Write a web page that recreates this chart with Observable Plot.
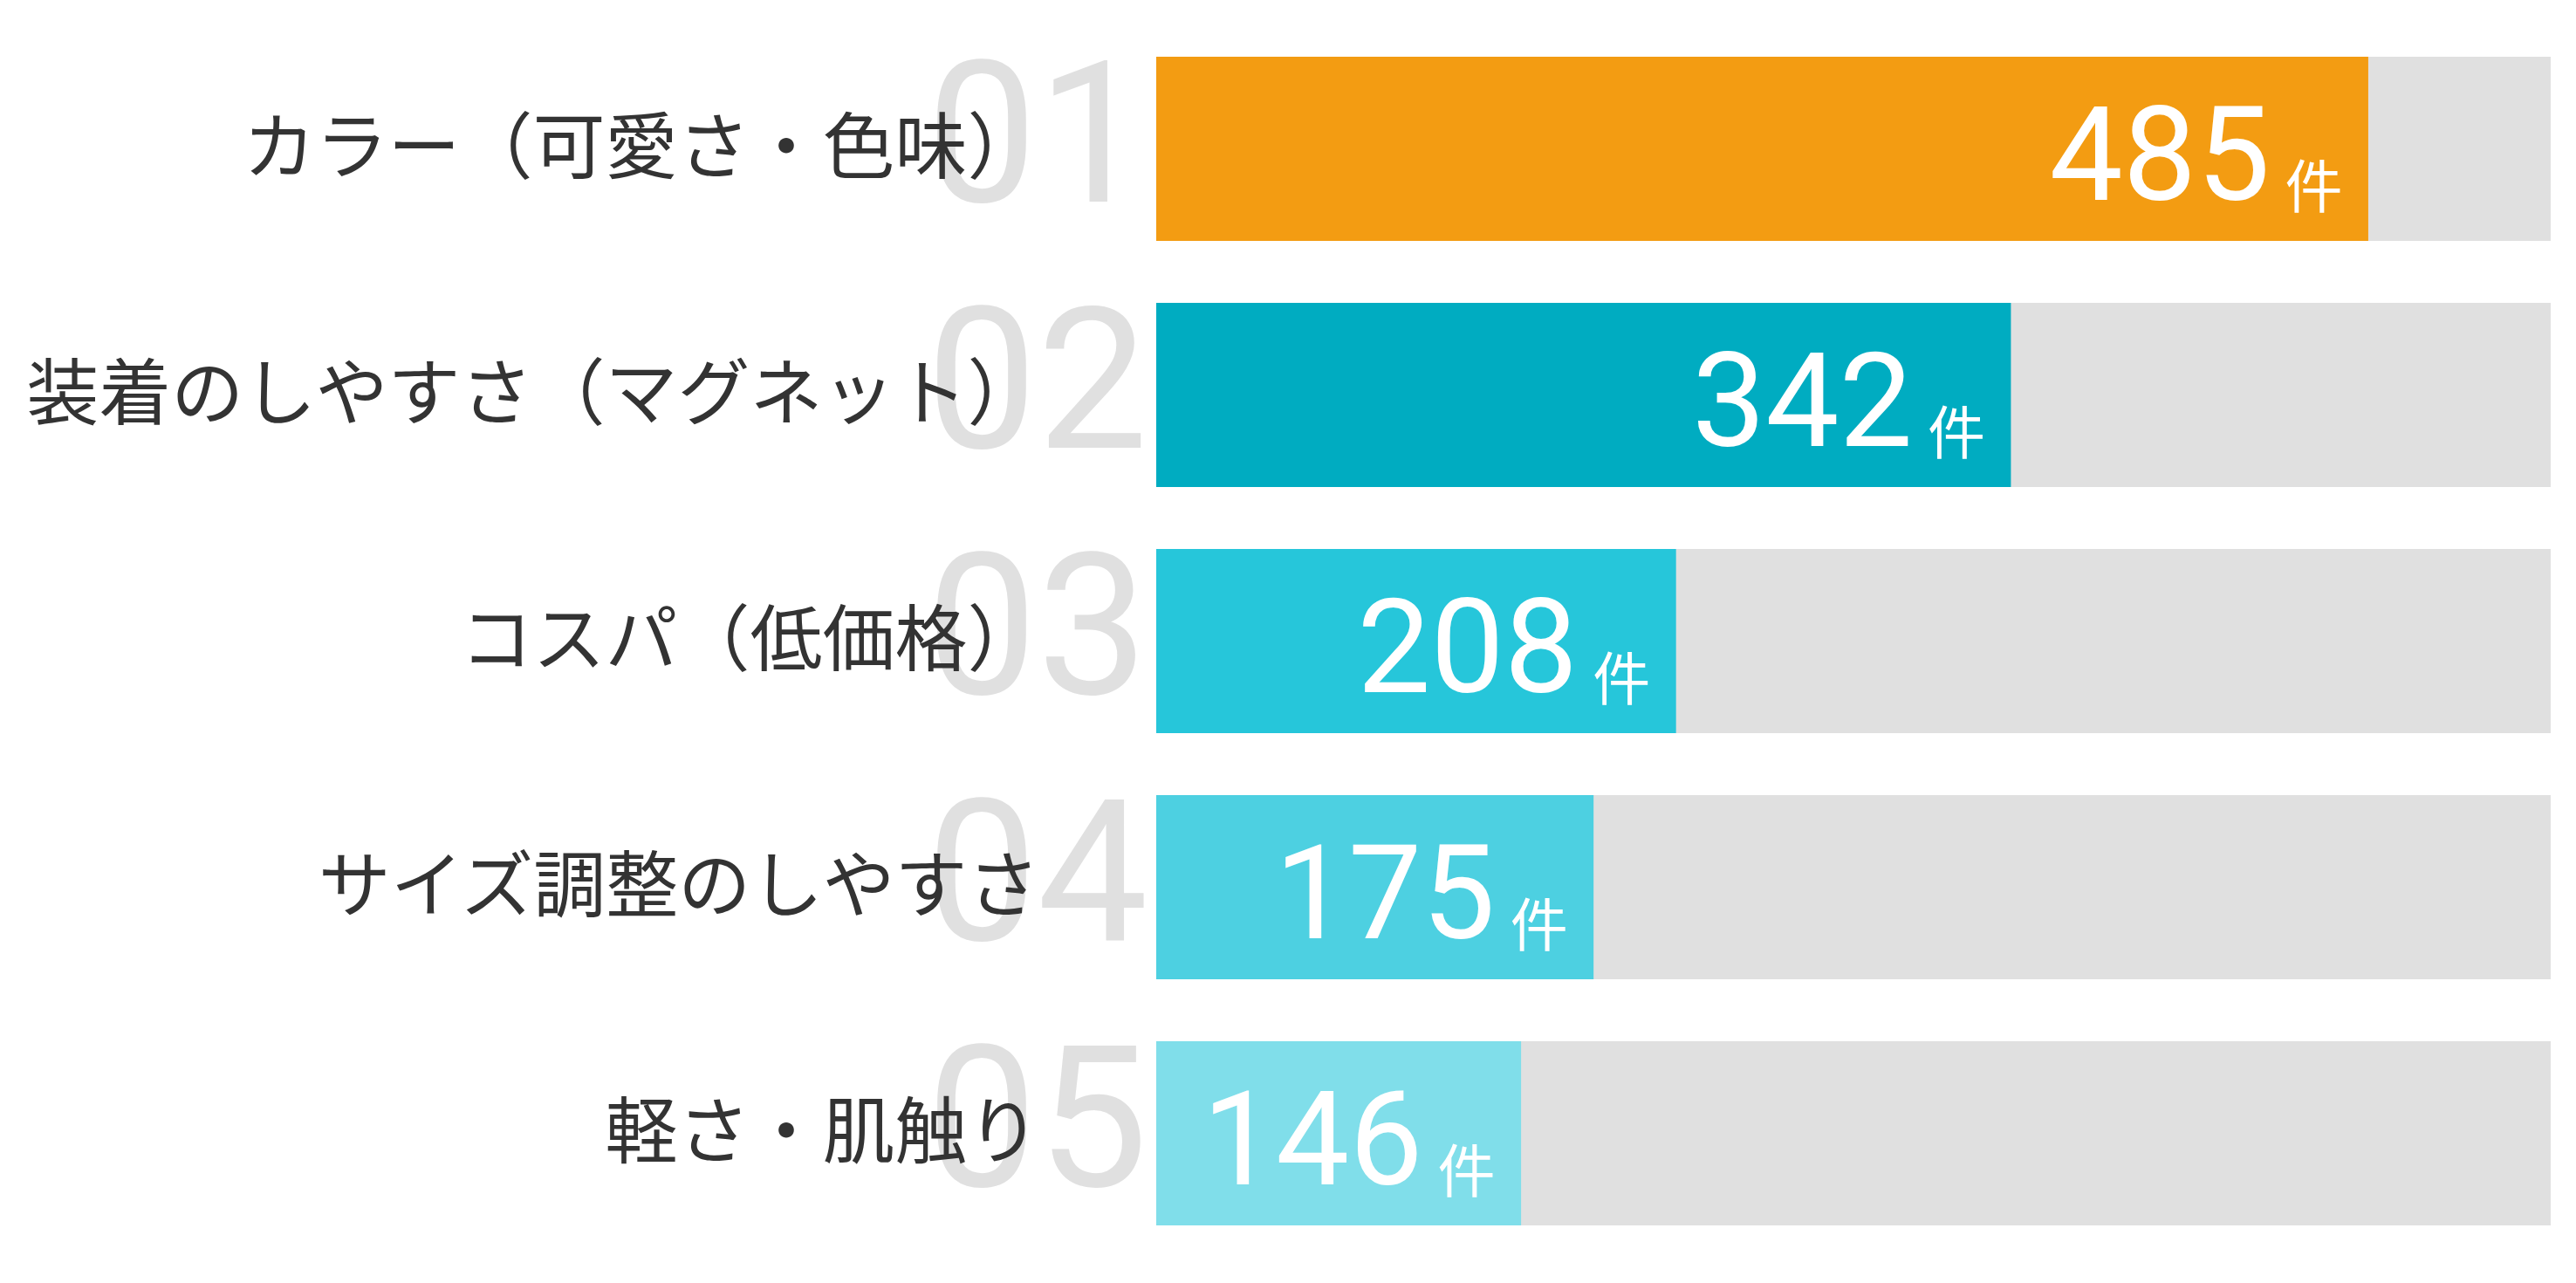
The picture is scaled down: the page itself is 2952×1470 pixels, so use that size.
<!DOCTYPE html>
<html>
<head>
<meta charset="utf-8">
<script src="https://cdn.jsdelivr.net/npm/d3@7"></script>
<script src="https://cdn.jsdelivr.net/npm/@observablehq/plot@0.6"></script>
<style>
  html, body { margin: 0; padding: 0; background: #ffffff; }
  #chart svg { display: block; }
</style>
</head>
<body>
<div id="chart"></div>
<script>
const labels = ["カラー（可愛さ・色味）", "装着のしやすさ（マグネット）", "コスパ（低価格）", "サイズ調整のしやすさ", "軽さ・肌触り"];
const counts = [485, 342, 208, 175, 146];
const ranks = ["01", "02", "03", "04", "05"];
const colors = ["#F39C12", "#00ACC1", "#26C6DA", "#4DD0E1", "#80DEEA"];
const unit = "件";
const scaleMax = 558;

const data = labels.map((label, i) => ({label, count: counts[i], rank: ranks[i], color: colors[i], max: scaleMax}));

const chart = Plot.plot({
  width: 2952,
  height: 1470,
  marginLeft: 1325,
  marginRight: 29,
  marginTop: 30,
  marginBottom: 31,
  style: {fontFamily: "'Noto Sans CJK JP', sans-serif", background: "#ffffff"},
  x: {domain: [0, scaleMax], axis: null},
  y: {domain: labels, paddingInner: 0.252, paddingOuter: 0.124, label: null},
  marks: [
    Plot.barX(data, {y: "label", x1: 0, x2: "max", fill: "#E0E0E0"}),
    Plot.barX(data, {y: "label", x1: 0, x2: "count", fill: "color"}),
    Plot.text(data, {
      y: "label", text: "rank", frameAnchor: "left", dx: -264, dy: 60,
      textAnchor: "start", lineAnchor: "bottom",
      fill: "#E0E0E0", fontSize: 226, fontFamily: "Roboto", fontWeight: 400
    }),
    Plot.axisY({
      tickSize: 0, tickPadding: 134, fontSize: 83, fill: "#333333",
      fontFamily: "'Noto Sans CJK JP', sans-serif", label: null
    }),
    Plot.text(data, {
      y: "label", x: "count", text: d => String(d.count), dx: -113, dy: 58,
      textAnchor: "end", lineAnchor: "bottom",
      fill: "#ffffff", fontSize: 150, fontFamily: "Roboto", fontWeight: 400
    }),
    Plot.text(data, {
      y: "label", x: "count", text: () => unit, dx: -30, dy: 67,
      textAnchor: "end", lineAnchor: "bottom",
      fill: "#ffffff", fontSize: 66, fontFamily: "'Noto Sans CJK JP', sans-serif"
    })
  ]
});
document.getElementById("chart").appendChild(chart);
</script>
</body>
</html>
